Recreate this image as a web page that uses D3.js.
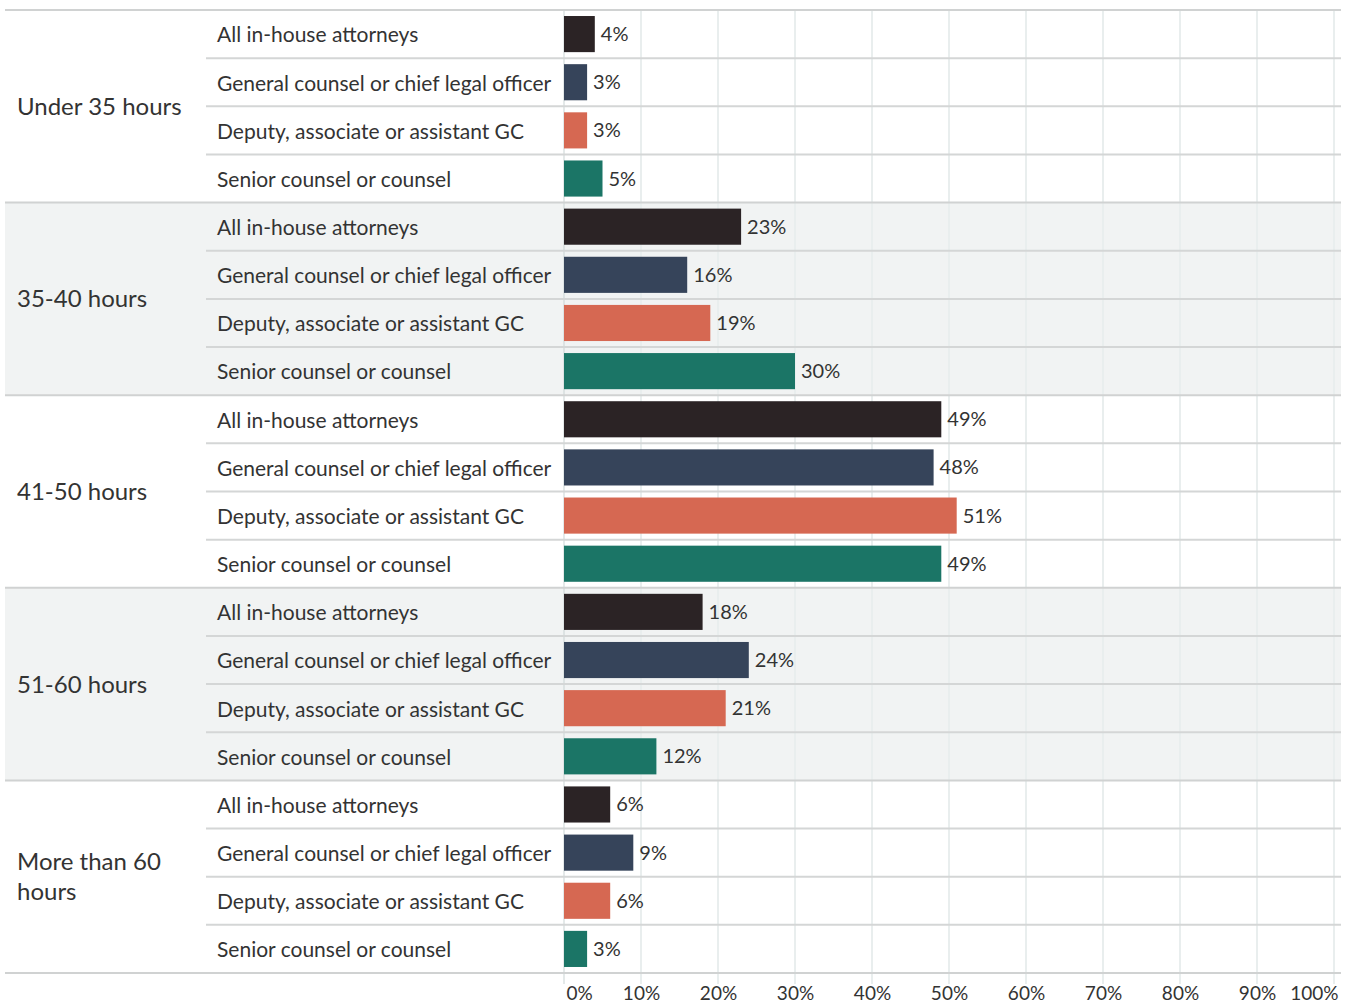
<!DOCTYPE html>
<html>
<head>
<meta charset="utf-8">
<script src="https://cdn.jsdelivr.net/npm/d3@7"></script>
<style>
  body { margin: 0; background: #fff; }
  text { font-family: Lato, "Open Sans", sans-serif; fill: #333; }
</style>
</head>
<body>
<div id="container"></div>
<script>
var groups = ["Under 35 hours", "35-40 hours", "41-50 hours", "51-60 hours", "More than 60 hours"];
var roles = ["All in-house attorneys", "General counsel or chief legal officer", "Deputy, associate or assistant GC", "Senior counsel or counsel"];
var allInHouse = [4, 23, 49, 18, 6];
var generalCounsel = [3, 16, 48, 24, 9];
var deputyGC = [3, 19, 51, 21, 6];
var seniorCounsel = [5, 30, 49, 12, 3];
var ticks = [0, 10, 20, 30, 40, 50, 60, 70, 80, 90, 100];
var colors = ["#2b2325", "#36445a", "#d66852", "#1b7566"];

var width = 1349, height = 1005;
var chartTop = 10, chartBottom = 973, chartLeft = 5, chartRight = 1341;

var series = [allInHouse, generalCounsel, deputyGC, seniorCounsel];
var rows = [];
groups.forEach(function (g, gi) {
    roles.forEach(function (r, ri) {
        rows.push({ group: g, gi: gi, role: r, ri: ri, value: series[ri][gi], key: gi + "|" + ri });
    });
});

var svg = d3.select("#container")
    .append("svg")
    .attr("width", width)
    .attr("height", height);

var x = d3.scaleLinear().domain([0, 100]).range([564, 1334]);
var yGroup = d3.scaleBand().domain(groups).range([chartTop, chartBottom]);
var yRow = d3.scaleBand().domain(rows.map(function (d) { return d.key; }))
    .range([chartTop, chartBottom]).paddingInner(0.25).paddingOuter(0.125);
var rowStep = yRow.step();

// shaded groups
svg.append("g")
    .selectAll("rect")
    .data(groups.filter(function (g, i) { return i % 2 == 1; }))
    .enter().append("rect")
    .attr("x", chartLeft)
    .attr("width", chartRight - chartLeft)
    .attr("y", function (d) { return yGroup(d); })
    .attr("height", yGroup.bandwidth())
    .attr("fill", "#f1f3f3");

// vertical grid
svg.append("g")
    .selectAll("line")
    .data(ticks)
    .enter().append("line")
    .attr("x1", function (d) { return x(d); })
    .attr("x2", function (d) { return x(d); })
    .attr("y1", chartTop)
    .attr("y2", 984)
    .attr("stroke", function (d) { return d == 0 ? "#c9d3d3" : "#e9eeee"; })
    .attr("stroke-width", function (d) { return d == 0 ? 1 : 2; });

// row separators within groups
svg.append("g")
    .selectAll("line")
    .data(rows.filter(function (d) { return d.ri > 0; }))
    .enter().append("line")
    .attr("x1", 206)
    .attr("x2", chartRight)
    .attr("y1", function (d) { return yRow(d.key) - (rowStep - yRow.bandwidth()) / 2; })
    .attr("y2", function (d) { return yRow(d.key) - (rowStep - yRow.bandwidth()) / 2; })
    .attr("stroke", "#d4d6d6")
    .attr("stroke-width", 2);

// group separators
svg.append("g")
    .selectAll("line")
    .data(groups.concat(["end"]))
    .enter().append("line")
    .attr("x1", chartLeft)
    .attr("x2", chartRight)
    .attr("y1", function (d) { return d == "end" ? chartBottom : yGroup(d); })
    .attr("y2", function (d) { return d == "end" ? chartBottom : yGroup(d); })
    .attr("stroke", "#d0d2d2")
    .attr("stroke-width", 2);

// bars
svg.append("g")
    .selectAll("rect")
    .data(rows)
    .enter().append("rect")
    .attr("x", x(0))
    .attr("y", function (d) { return yRow(d.key); })
    .attr("width", function (d) { return x(d.value) - x(0); })
    .attr("height", yRow.bandwidth())
    .attr("fill", function (d) { return colors[d.ri]; });

// value labels
svg.append("g")
    .selectAll("text")
    .data(rows)
    .enter().append("text")
    .attr("x", function (d) { return x(d.value) + 6; })
    .attr("y", function (d) { return yRow(d.key) + yRow.bandwidth() / 2; })
    .attr("dy", "0.35em")
    .style("font-size", "20px")
    .text(function (d) { return d.value + "%"; });

// role labels
svg.append("g")
    .selectAll("text")
    .data(rows)
    .enter().append("text")
    .attr("x", 217)
    .attr("y", function (d) { return yRow(d.key) + yRow.bandwidth() / 2 + 1; })
    .attr("dy", "0.35em")
    .style("font-size", "21px")
    .text(function (d) { return d.role; });

// group labels (wrapped)
var groupText = svg.append("g")
    .selectAll("text")
    .data(groups)
    .enter().append("text")
    .attr("x", 17)
    .style("font-size", "24px");

groupText.each(function (g) {
    var t = d3.select(this);
    var words = g.split(" "), lines = [], line = [];
    var probe = t.append("tspan");
    words.forEach(function (w) {
        line.push(w);
        probe.text(line.join(" "));
        if (probe.node().getComputedTextLength() > 180 && line.length > 1) {
            line.pop();
            lines.push(line.join(" "));
            line = [w];
        }
    });
    lines.push(line.join(" "));
    probe.remove();
    var lh = 30;
    var cy = yGroup(g) + yGroup.bandwidth() / 2 - (lines.length - 1) * lh / 2;
    lines.forEach(function (l, i) {
        t.append("tspan")
            .attr("x", 17)
            .attr("y", cy + i * lh)
            .attr("dy", "0.35em")
            .text(l);
    });
});

// x axis labels
var axis = d3.axisBottom(x)
    .tickValues(ticks)
    .tickFormat(function (d) { return d + "%"; })
    .tickSize(0)
    .tickPadding(0);

var axisG = svg.append("g")
    .attr("transform", "translate(0," + 986 + ")")
    .call(axis);
axisG.select(".domain").remove();
axisG.selectAll("text")
    .style("font-size", "19px")
    .style("font-family", "Lato, sans-serif")
    .attr("fill", "#333")
    .attr("text-anchor", function (d) { return d == 0 ? "start" : (d == 100 ? "end" : "middle"); })
    .attr("dx", function (d) { return d == 0 ? 2 : (d == 100 ? 4 : 0); });
</script>
</body>
</html>
